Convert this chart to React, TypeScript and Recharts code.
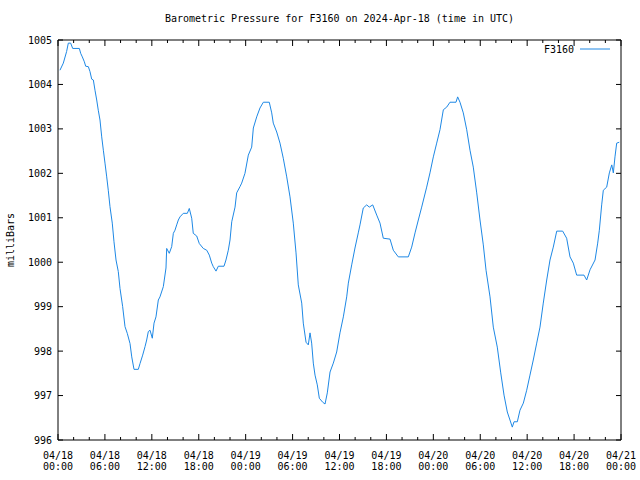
import React from 'react';
import { LineChart, Line, XAxis, YAxis, Legend, Label } from 'recharts';

// hours since 2024-04-18 00:00 UTC
const hours = [
  0.25, 0.68, 1.1, 1.32, 1.62, 1.88, 2.73, 2.9, 3.11, 3.37, 3.54, 3.88, 4.09, 4.31, 4.52, 4.73, 4.95,
  5.15, 5.37, 5.59, 5.8, 6.01, 6.23, 6.43, 6.65, 6.94, 7.16, 7.42, 7.71, 7.93, 8.27, 8.57, 8.86, 9.21,
  9.43, 9.72, 10.27, 10.49, 10.83, 11.13, 11.34, 11.55, 11.77, 12.06, 12.28, 12.53, 12.83, 13.04,
  13.47, 13.81, 13.9, 14.23, 14.54, 14.75, 14.96, 15.18, 15.39, 15.6, 16.02, 16.54, 16.79, 17.1, 17.3,
  17.74, 18.07, 18.58, 19.02, 19.35, 19.66, 19.86, 20.21, 20.5, 21.23, 21.48, 21.78, 22.0, 22.22,
  22.64, 22.85, 23.27, 23.49, 23.91, 24.34, 24.77, 24.98, 25.41, 25.83, 26.26, 27.02, 27.33, 27.53,
  27.97, 28.39, 28.81, 29.25, 29.67, 30.09, 30.44, 30.73, 31.17, 31.37, 31.72, 32.01, 32.23, 32.44,
  32.65, 32.87, 33.16, 33.42, 33.85, 34.15, 34.44, 34.79, 35.21, 35.64, 36.06, 36.49, 36.92, 37.13,
  37.56, 37.98, 38.4, 38.62, 39.04, 39.48, 39.81, 40.25, 40.76, 41.18, 41.6, 42.46, 42.88, 43.52,
  44.8, 45.23, 45.66, 46.08, 46.51, 47.15, 47.57, 48.0, 48.43, 48.85, 49.28, 49.71, 50.13, 50.9,
  51.11, 51.41, 51.83, 52.27, 52.69, 53.11, 53.55, 53.97, 54.39, 54.74, 55.25, 55.67, 56.18, 56.62,
  57.04, 57.46, 57.8, 58.1, 58.32, 58.74, 59.08, 59.51, 59.94, 60.36, 60.78, 61.22, 61.64, 62.06,
  62.5, 62.92, 63.34, 63.78, 64.54, 65.05, 65.48, 65.9, 66.33, 67.27, 67.61, 68.04, 68.68, 69.02,
  69.23, 69.53, 69.74, 70.17, 70.51, 70.82, 71.02, 71.23, 71.45, 71.78,
];

const pressure = [
  1004.32, 1004.48, 1004.74, 1004.93, 1004.93, 1004.81, 1004.81, 1004.7, 1004.62, 1004.51, 1004.41,
  1004.4, 1004.29, 1004.12, 1004.1, 1003.87, 1003.65, 1003.42, 1003.2, 1002.82, 1002.52, 1002.23,
  1001.92, 1001.62, 1001.25, 1000.88, 1000.46, 1000.05, 999.79, 999.41, 999.0, 998.55, 998.4, 998.17,
  997.87, 997.59, 997.59, 997.72, 997.91, 998.1, 998.25, 998.44, 998.47, 998.29, 998.63, 998.77,
  999.15, 999.22, 999.45, 999.87, 1000.31, 1000.2, 1000.35, 1000.65, 1000.72, 1000.84, 1000.95,
  1001.02, 1001.1, 1001.1, 1001.21, 1000.99, 1000.65, 1000.59, 1000.42, 1000.31, 1000.27, 1000.16,
  999.98, 999.9, 999.8, 999.91, 999.91, 1000.05, 1000.27, 1000.5, 1000.91, 1001.24, 1001.56, 1001.7,
  1001.78, 1002.0, 1002.41, 1002.59, 1003.02, 1003.27, 1003.47, 1003.6, 1003.6, 1003.36, 1003.13,
  1002.93, 1002.68, 1002.34, 1001.92, 1001.47, 1000.88, 1000.21, 999.49, 999.08, 998.63, 998.2,
  998.14, 998.41, 998.18, 997.73, 997.46, 997.24, 996.94, 996.85, 996.81, 997.06, 997.53, 997.73,
  997.98, 998.41, 998.77, 999.22, 999.53, 999.94, 1000.32, 1000.66, 1000.84, 1001.22, 1001.29,
  1001.24, 1001.29, 1001.06, 1000.88, 1000.54, 1000.52, 1000.27, 1000.12, 1000.12, 1000.34, 1000.66,
  1000.95, 1001.24, 1001.69, 1002.01, 1002.37, 1002.68, 1002.98, 1003.43, 1003.49, 1003.6, 1003.6,
  1003.72, 1003.6, 1003.36, 1002.98, 1002.52, 1002.14, 1001.56, 1000.95, 1000.39, 999.82, 999.22,
  998.54, 998.09, 997.51, 997.01, 996.63, 996.45, 996.29, 996.41, 996.41, 996.67, 996.83, 997.12,
  997.46, 997.8, 998.18, 998.54, 999.08, 999.6, 1000.05, 1000.34, 1000.7, 1000.7, 1000.54, 1000.12,
  999.98, 999.71, 999.71, 999.6, 999.83, 1000.05, 1000.43, 1000.72, 1001.29, 1001.62, 1001.69,
  1002.01, 1002.19, 1002.01, 1002.37, 1002.68, 1002.7,
];

const seriesName = 'F3160';
const title = 'Barometric Pressure for F3160 on 2024-Apr-18 (time in UTC)';
const yTitle = 'milliBars';

const xTicks = [
  0, 2, 4, 6, 8, 10, 12, 14, 16, 18, 20, 22, 24, 26, 28, 30, 32, 34, 36, 38, 40, 42, 44, 46, 48, 50,
  52, 54, 56, 58, 60, 62, 64, 66, 68, 70, 72,
];
const majorHours = [0, 6, 12, 18, 24, 30, 36, 42, 48, 54, 60, 66, 72];
const majorDates = ['04/18', '04/18', '04/18', '04/18', '04/19', '04/19', '04/19', '04/19', '04/20', '04/20', '04/20', '04/20', '04/21'];
const majorTimes = ['00:00', '06:00', '12:00', '18:00', '00:00', '06:00', '12:00', '18:00', '00:00', '06:00', '12:00', '18:00', '00:00'];
const yTicks = [996, 997, 998, 999, 1000, 1001, 1002, 1003, 1004, 1005];

const data = hours.map((h, i) => ({ h, p: pressure[i] }));

const FONT = '"DejaVu Sans Mono", "Liberation Mono", monospace';
const BLUE = '#1e88e5';

const BottomTick = (props: any) => {
  const { x, y, payload } = props;
  const idx = majorHours.indexOf(payload.value);
  const major = idx >= 0;
  return (
    <g>
      <line x1={x} x2={x} y1={y} y2={y - (major ? 6 : 3)} stroke="#000" />
      {major && (
        <text x={x} y={y} textAnchor="middle" fontFamily={FONT} fontSize={10} fill="#000">
          <tspan x={x} dy={19}>{majorDates[idx]}</tspan>
          <tspan x={x} dy={11}>{majorTimes[idx]}</tspan>
        </text>
      )}
    </g>
  );
};

const TopTick = (props: any) => {
  const { x, y, payload } = props;
  const major = majorHours.indexOf(payload.value) >= 0;
  return <line x1={x} x2={x} y1={y} y2={y + (major ? 6 : 3)} stroke="#000" />;
};

const LeftTick = (props: any) => {
  const { x, y, payload } = props;
  return (
    <g>
      <line x1={x} x2={x + 5} y1={y} y2={y} stroke="#000" />
      <text x={x - 6} y={y} dy={3.5} textAnchor="end" fontFamily={FONT} fontSize={10} fill="#000">
        {payload.value}
      </text>
    </g>
  );
};

const RightTick = (props: any) => {
  const { x, y } = props;
  return <line x1={x} x2={x - 5} y1={y} y2={y} stroke="#000" />;
};

const LegendContent = () => (
  <svg width={90} height={14} style={{ display: 'block' }}>
    <text x={52} y={10.5} textAnchor="end" fontFamily={FONT} fontSize={10} fill="#000">
      {seriesName}
    </text>
    <line x1={58} x2={88} y1={7} y2={7} stroke={BLUE} />
  </svg>
);

export default function App() {
  return (
    <div style={{ position: 'absolute', left: 0, top: 0, width: 640, height: 480, background: '#fff' }}>
      <div
        style={{
          position: 'absolute',
          left: 0,
          width: 679,
          top: 12,
          textAlign: 'center',
          fontFamily: FONT,
          fontSize: 10,
          lineHeight: '14px',
          color: '#000',
        }}
      >
        {title}
      </div>
      <LineChart width={640} height={480} data={data} margin={{ top: 39, right: 18, bottom: 0, left: 0 }}>
        <XAxis
          dataKey="h"
          type="number"
          domain={[0, 72]}
          allowDataOverflow
          ticks={xTicks}
          interval={0}
          height={40}
          tickSize={0}
          tickMargin={0}
          tick={<BottomTick />}
          axisLine={{ stroke: '#000' }}
        />
        <XAxis
          xAxisId="top"
          orientation="top"
          dataKey="h"
          type="number"
          domain={[0, 72]}
          allowDataOverflow
          ticks={xTicks}
          interval={0}
          height={1}
          tickSize={0}
          tickMargin={0}
          tick={<TopTick />}
          axisLine={{ stroke: '#000' }}
        />
        <YAxis
          type="number"
          domain={[996, 1005]}
          allowDataOverflow
          ticks={yTicks}
          interval={0}
          width={58}
          tickSize={0}
          tickMargin={0}
          tick={<LeftTick />}
          axisLine={{ stroke: '#000' }}
        >
          <Label
            value={yTitle}
            angle={-90}
            position="insideLeft"
            offset={10}
            textAnchor="middle"
            style={{ fontFamily: FONT, fontSize: 10, fill: '#000' }}
          />
        </YAxis>
        <YAxis
          yAxisId="right"
          orientation="right"
          type="number"
          domain={[996, 1005]}
          allowDataOverflow
          ticks={yTicks}
          interval={0}
          width={1}
          tickSize={0}
          tickMargin={0}
          tick={<RightTick />}
          axisLine={{ stroke: '#000' }}
        />
        <Legend
          layout="vertical"
          align="center"
          verticalAlign="middle"
          content={<LegendContent />}
          wrapperStyle={{ left: 522, top: 42, width: 90, height: 14 }}
        />
        <Line
          name={seriesName}
          dataKey="p"
          type="linear"
          stroke={BLUE}
          strokeWidth={1}
          dot={false}
          activeDot={false}
          isAnimationActive={false}
        />
      </LineChart>
    </div>
  );
}
